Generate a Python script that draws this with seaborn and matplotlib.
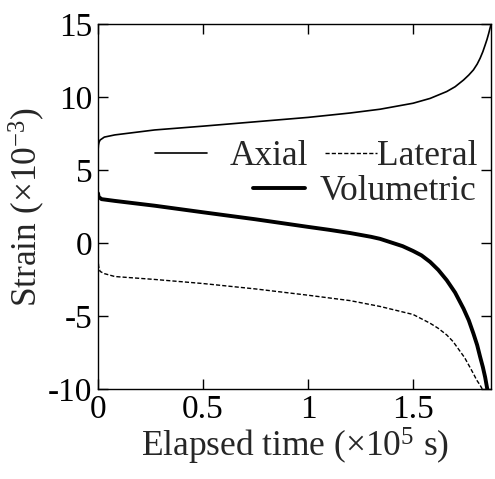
import matplotlib
matplotlib.use("Agg")
import matplotlib.pyplot as plt
import seaborn as sns
import pandas as pd

# data (time in 1e5 s, strain in 1e-3)
t_axial = [0, 0.002, 0.005, 0.01, 0.03, 0.08, 0.27, 0.5, 0.75, 1.0, 1.2, 1.343, 1.5, 1.581,
           1.66, 1.70, 1.74, 1.765, 1.787, 1.805, 1.819, 1.832, 1.843, 1.852, 1.86, 1.866, 1.871]
axial = [6.3, 6.7, 6.9, 7.05, 7.25, 7.4, 7.74, 8.0, 8.3, 8.6, 8.9, 9.16, 9.57, 9.9,
         10.37, 10.7, 11.16, 11.5, 11.85, 12.25, 12.65, 13.1, 13.56, 13.95, 14.36, 14.7, 14.98]

t_lateral = [0, 0.003, 0.01, 0.03, 0.08, 0.27, 0.5, 0.75, 1.0, 1.2, 1.343, 1.5, 1.581, 1.62,
             1.66, 1.69, 1.72, 1.745, 1.77, 1.787, 1.803, 1.818, 1.829]
lateral = [-1.0, -1.6, -1.95, -2.1, -2.3, -2.5, -2.78, -3.15, -3.58, -3.95, -4.35, -4.9, -5.5, -5.85,
           -6.3, -6.75, -7.35, -7.85, -8.5, -8.95, -9.4, -9.72, -10.0]

t_vol = [0, 0.003, 0.017, 0.08, 0.27, 0.5, 0.75, 1.0, 1.1, 1.2, 1.3, 1.343, 1.42, 1.45, 1.5,
         1.54, 1.581, 1.62, 1.66, 1.70, 1.74, 1.765, 1.787, 1.805, 1.819, 1.832, 1.843, 1.853]
volumetric = [3.4, 3.15, 3.0, 2.88, 2.55, 2.1, 1.62, 1.1, 0.9, 0.68, 0.42, 0.28, -0.08, -0.22, -0.55,
              -0.85, -1.3, -1.85, -2.55, -3.4, -4.5, -5.3, -6.2, -7.0, -7.8, -8.5, -9.2, -10.0]

sns.set_style("ticks")
plt.rcParams['font.family'] = ['Liberation Serif', 'DejaVu Serif']
plt.rcParams['mathtext.fontset'] = 'custom'
plt.rcParams['mathtext.rm'] = 'Liberation Serif'
plt.rcParams['mathtext.it'] = 'Liberation Serif:italic'
plt.rcParams['axes.unicode_minus'] = False

fig = plt.figure(figsize=(4.95, 4.79), dpi=100)
ax = fig.add_axes([0.198, 0.188, 0.794, 0.762])

df_a = pd.DataFrame({'t': t_axial, 's': axial})
df_l = pd.DataFrame({'t': t_lateral, 's': lateral})
df_v = pd.DataFrame({'t': t_vol, 's': volumetric})

sns.lineplot(data=df_a, x='t', y='s', ax=ax, color='black', lw=1.2, sort=False, label='Axial')
sns.lineplot(data=df_l, x='t', y='s', ax=ax, color='black', lw=1.0, sort=False, label='Lateral')
sns.lineplot(data=df_v, x='t', y='s', ax=ax, color='black', lw=2.8, sort=False, label='Volumetric')
lines = ax.get_lines()
lines[1].set_dashes([3, 1.5])
for ln in lines:
    ln.set_solid_joinstyle('round')

ax.set_xlim(0, 1.871)
ax.set_ylim(-10, 15)
ax.set_xticks([0, 0.5, 1, 1.5])
ax.set_xticklabels(['0', '0.5', '1', '1.5'])
ax.set_yticks([-10, -5, 0, 5, 10, 15])
ax.tick_params(direction='in', length=7, width=1, labelsize=24, top=True, right=True,
               colors='black', pad=4)
for s in ax.spines.values():
    s.set_linewidth(1)
    s.set_color('black')

ax.set_xlabel('Elapsed time (×10$^{5}$ s)', fontsize=25.5, labelpad=1)
ax.set_ylabel('Strain (×10$^{-3}$)', fontsize=25.5, labelpad=1)

# three single-entry legends, placed like the original
leg_opts = dict(frameon=False, fontsize=25.5, handlelength=1.47, loc='center left',
                borderaxespad=0, borderpad=0)
leg_a = ax.legend(handles=[lines[0]], labels=['Axial'], handletextpad=0.65,
                  bbox_to_anchor=(0.145, 0.636), **leg_opts)
ax.add_artist(leg_a)
leg_l = ax.legend(handles=[lines[1]], labels=['Lateral'], handletextpad=0.0,
                  bbox_to_anchor=(0.578, 0.636), **leg_opts)
ax.add_artist(leg_l)
ax.legend(handles=[lines[2]], labels=['Volumetric'], handletextpad=0.42,
          bbox_to_anchor=(0.394, 0.540), **leg_opts)

plt.savefig('out.png', dpi=100)
